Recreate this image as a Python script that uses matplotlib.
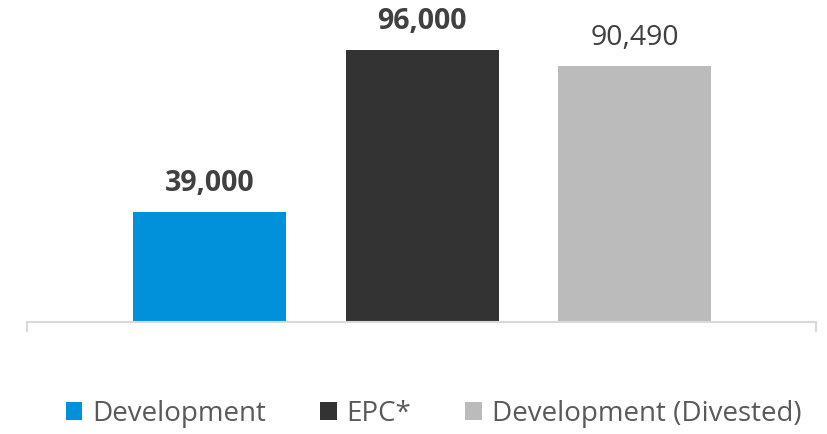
import matplotlib.pyplot as plt
from matplotlib.patches import Patch

categories = ["Development", "EPC*", "Development (Divested)"]
values = [39000, 96000, 90490]
labels = ["39,000", "96,000", "90,490"]
label_weights = ["bold", "bold", "normal"]
colors = ["#0091DA", "#333333", "#BBBBBB"]

plt.rcParams["font.family"] = ["Open Sans", "DejaVu Sans"]

fig = plt.figure(figsize=(8.28, 4.34), dpi=100)
ax = fig.add_axes([27 / 828, 1 - 322 / 434, 789 / 828, 322 / 434])

x = list(range(len(values)))
ax.bar(x, values, width=0.72, color=colors)

for xi, v, lab, w in zip(x, values, labels, label_weights):
    ax.annotate(lab, (xi, v), xytext=(0, 15), textcoords="offset points",
                ha="center", va="baseline", fontsize=20.5, fontweight=w, color="#404040")

xmin, xmax = -0.859, 2.854
ax.set_xlim(xmin, xmax)
ax.set_ylim(0, 96000 * 322 / 272)
ax.set_yticks([])
ax.set_xticks([xmin, xmax])
ax.set_xticklabels(["", ""])
ax.tick_params(axis="x", direction="out", length=7, width=1.5, color="#D9D9D9")
for side in ["left", "right", "top"]:
    ax.spines[side].set_visible(False)
ax.spines["bottom"].set_color("#D9D9D9")
ax.spines["bottom"].set_linewidth(1.5)

handles = [Patch(facecolor=c, edgecolor="none") for c in colors]
fig.legend(handles, categories, loc="center", bbox_to_anchor=(433.5 / 828, 1 - 414 / 434),
           ncol=3, frameon=False, fontsize=20, labelcolor="#595959",
           handlelength=0.6, handleheight=0.6, handletextpad=0.35, columnspacing=1.95)

fig.savefig("out.png", dpi=100)
